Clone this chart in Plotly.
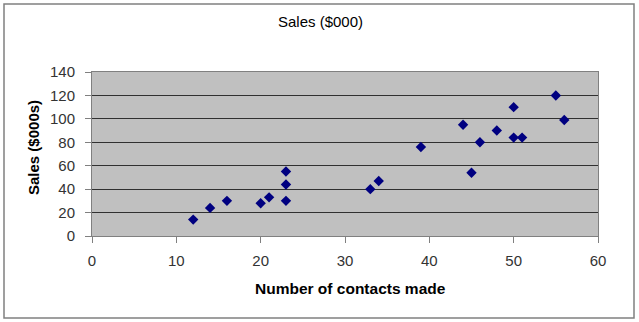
import plotly.graph_objects as go

contacts = [12, 14, 16, 20, 21, 23, 23, 23, 33, 34, 39, 44, 45, 46, 48, 50, 50, 51, 55, 56]
sales = [14, 24, 30, 28, 33, 30, 44, 55, 40, 47, 76, 95, 54, 80, 90, 110, 84, 84, 120, 99]

x_ticks = [0, 10, 20, 30, 40, 50, 60]
y_ticks = [0, 20, 40, 60, 80, 100, 120, 140]

W, H = 639, 322
L, R, T, B = 92, 41, 72, 86
pw, ph = W - L - R, H - T - B

fig = go.Figure(go.Scatter(
    x=contacts, y=sales, mode="markers",
    marker=dict(symbol="diamond", size=8, color="#000080"),
    showlegend=False,
))

font = dict(family="Liberation Sans, Arial, sans-serif", color="#000000")
fig.update_layout(
    width=W, height=H,
    margin=dict(l=L, r=R, t=T, b=B),
    paper_bgcolor="white", plot_bgcolor="#C0C0C0",
    font=dict(size=12, **font),
    xaxis=dict(range=[0, 60], tickvals=x_ticks, ticks="outside", ticklen=6, tickcolor="#808080",
               showgrid=False, zeroline=False, showline=True, linecolor="#808080", mirror=True,
               ticklabelstandoff=5,
               tickfont=dict(size=15, family=font["family"], color="#333333")),
    yaxis=dict(range=[0, 140], tickvals=y_ticks, ticks="outside", ticklen=6, tickcolor="#808080",
               showgrid=True, gridcolor="#303030", gridwidth=1, zeroline=False,
               showline=True, linecolor="#808080", mirror=True,
               ticklabelstandoff=7,
               tickfont=dict(size=15, family=font["family"], color="#333333")),
)

def px_x(p):
    return (p - L) / pw

def px_y(p):
    return (H - B - p) / ph

fig.add_annotation(text="Sales ($000)", xref="paper", yref="paper", x=px_x(320), y=px_y(22),
                   showarrow=False, xanchor="center", yanchor="middle",
                   font=dict(size=15, **font))
fig.add_annotation(text="<b>Number of contacts made</b>", xref="paper", yref="paper",
                   x=px_x(350), y=px_y(288), showarrow=False, xanchor="center", yanchor="middle",
                   font=dict(size=15.5, **font))
fig.add_annotation(text="<b>Sales ($000s)</b>", xref="paper", yref="paper",
                   x=px_x(33), y=px_y(148), showarrow=False, xanchor="center", yanchor="middle",
                   textangle=-90, font=dict(size=15, **font))

fig.add_shape(type="rect", xref="paper", yref="paper",
              x0=px_x(4), x1=px_x(634), y0=px_y(318), y1=px_y(4),
              line=dict(color="#808080", width=1.5), fillcolor="rgba(0,0,0,0)", layer="below")

fig.write_html("out.html")
